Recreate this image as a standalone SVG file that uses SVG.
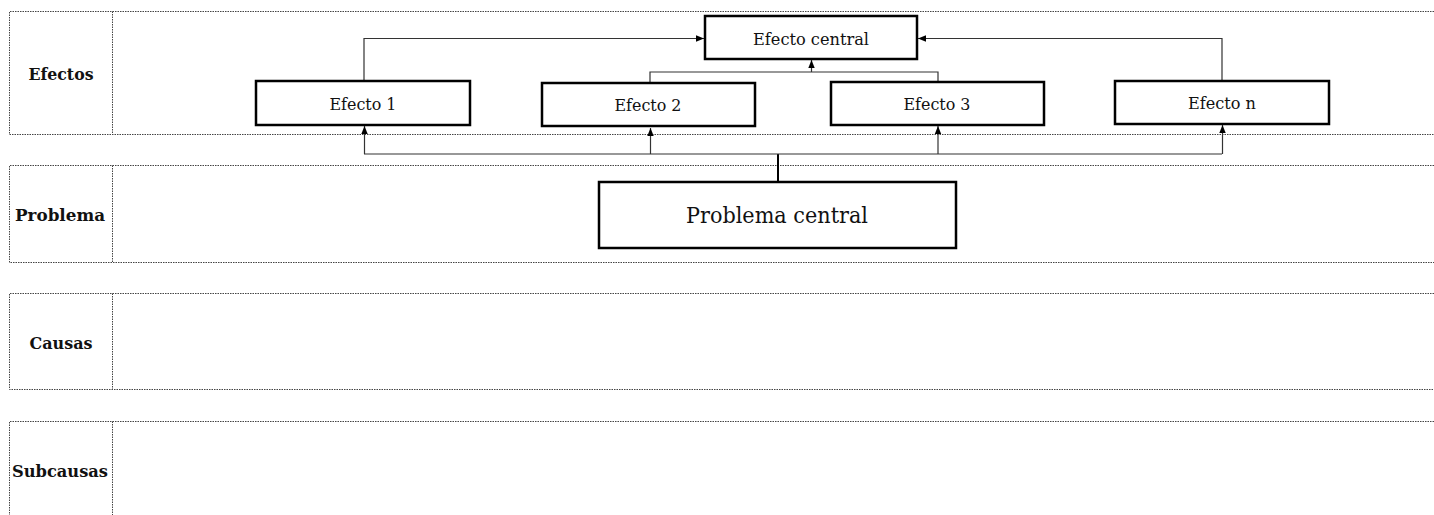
<svg xmlns="http://www.w3.org/2000/svg" width="1434" height="515" viewBox="0 0 1434 515">
<style>
.band{fill:none;stroke:#444;stroke-width:1;stroke-dasharray:1.5 1}
.lbl{font-family:"DejaVu Serif","Liberation Serif",serif;font-weight:bold;font-size:16.5px;fill:#111;text-anchor:middle}
.box{fill:#fff;stroke:#000;stroke-width:2.5}
.txt{font-family:"DejaVu Serif","Liberation Serif",serif;font-size:16.5px;fill:#111;text-anchor:middle}
.big{font-size:23px}
.con{fill:none;stroke:#333;stroke-width:1.2}
</style>
<defs>
<marker id="ah" viewBox="0 0 8 8" refX="8" refY="4" markerWidth="8" markerHeight="8" markerUnits="userSpaceOnUse" orient="auto">
<path d="M0,0.8 L8,4 L0,7.2 Z" fill="#000"/>
</marker>
</defs>
<rect width="1434" height="515" fill="#fff"/>
<g id="bands">
<path class="band" d="M1434,11.5 H9.5 V134.5 H1434 M112.5,11.5 V134.5"/>
<path class="band" d="M1434,165.5 H9.5 V262.5 H1434 M112.5,165.5 V262.5"/>
<path class="band" d="M1434,293.5 H9.5 V389.5 H1434 M112.5,293.5 V389.5"/>
<path class="band" d="M1434,421.5 H9.5 V515 M112.5,421.5 V515"/>
<text class="lbl" x="61" y="80" textLength="65" lengthAdjust="spacingAndGlyphs">Efectos</text>
<text class="lbl" x="60" y="221" textLength="90" lengthAdjust="spacingAndGlyphs">Problema</text>
<text class="lbl" x="61" y="349" textLength="63" lengthAdjust="spacingAndGlyphs">Causas</text>
<text class="lbl" x="60" y="477" textLength="96" lengthAdjust="spacingAndGlyphs">Subcausas</text>
</g>
<g id="connectors">
<path class="con" d="M364,81 V38.5 H704" marker-end="url(#ah)"/>
<path class="con" d="M1222,81 V38.5 H918" marker-end="url(#ah)"/>
<path class="con" d="M650,83 V72 H938 V82"/>
<path class="con" d="M811.5,72 V60" marker-end="url(#ah)"/>
<path class="con" d="M778,182 V154" style="stroke:#000;stroke-width:2"/>
<path class="con" d="M364,154 H1222"/>
<path class="con" d="M364.5,154 V126" marker-end="url(#ah)"/>
<path class="con" d="M650.5,154 V128" marker-end="url(#ah)"/>
<path class="con" d="M938,154 V126" marker-end="url(#ah)"/>
<path class="con" d="M1222.5,154 V125" marker-end="url(#ah)"/>
</g>
<g id="efecto-central">
<rect class="box" x="705" y="16" width="212" height="43"/>
<text class="txt" x="811" y="45" textLength="116" lengthAdjust="spacingAndGlyphs">Efecto central</text>
</g>
<g id="efecto-1">
<rect class="box" x="256" y="81" width="214" height="44"/>
<text class="txt" x="363" y="110" textLength="67" lengthAdjust="spacingAndGlyphs">Efecto 1</text>
</g>
<g id="efecto-2">
<rect class="box" x="542" y="83" width="213" height="43"/>
<text class="txt" x="648" y="111" textLength="67" lengthAdjust="spacingAndGlyphs">Efecto 2</text>
</g>
<g id="efecto-3">
<rect class="box" x="831" y="82" width="213" height="43"/>
<text class="txt" x="937" y="110" textLength="67" lengthAdjust="spacingAndGlyphs">Efecto 3</text>
</g>
<g id="efecto-n">
<rect class="box" x="1115" y="81" width="214" height="43"/>
<text class="txt" x="1222" y="109" textLength="68" lengthAdjust="spacingAndGlyphs">Efecto n</text>
</g>
<g id="problema-central">
<rect class="box" x="599" y="182" width="357" height="66"/>
<text class="txt big" x="777" y="223" textLength="182" lengthAdjust="spacingAndGlyphs">Problema central</text>
</g>
</svg>
